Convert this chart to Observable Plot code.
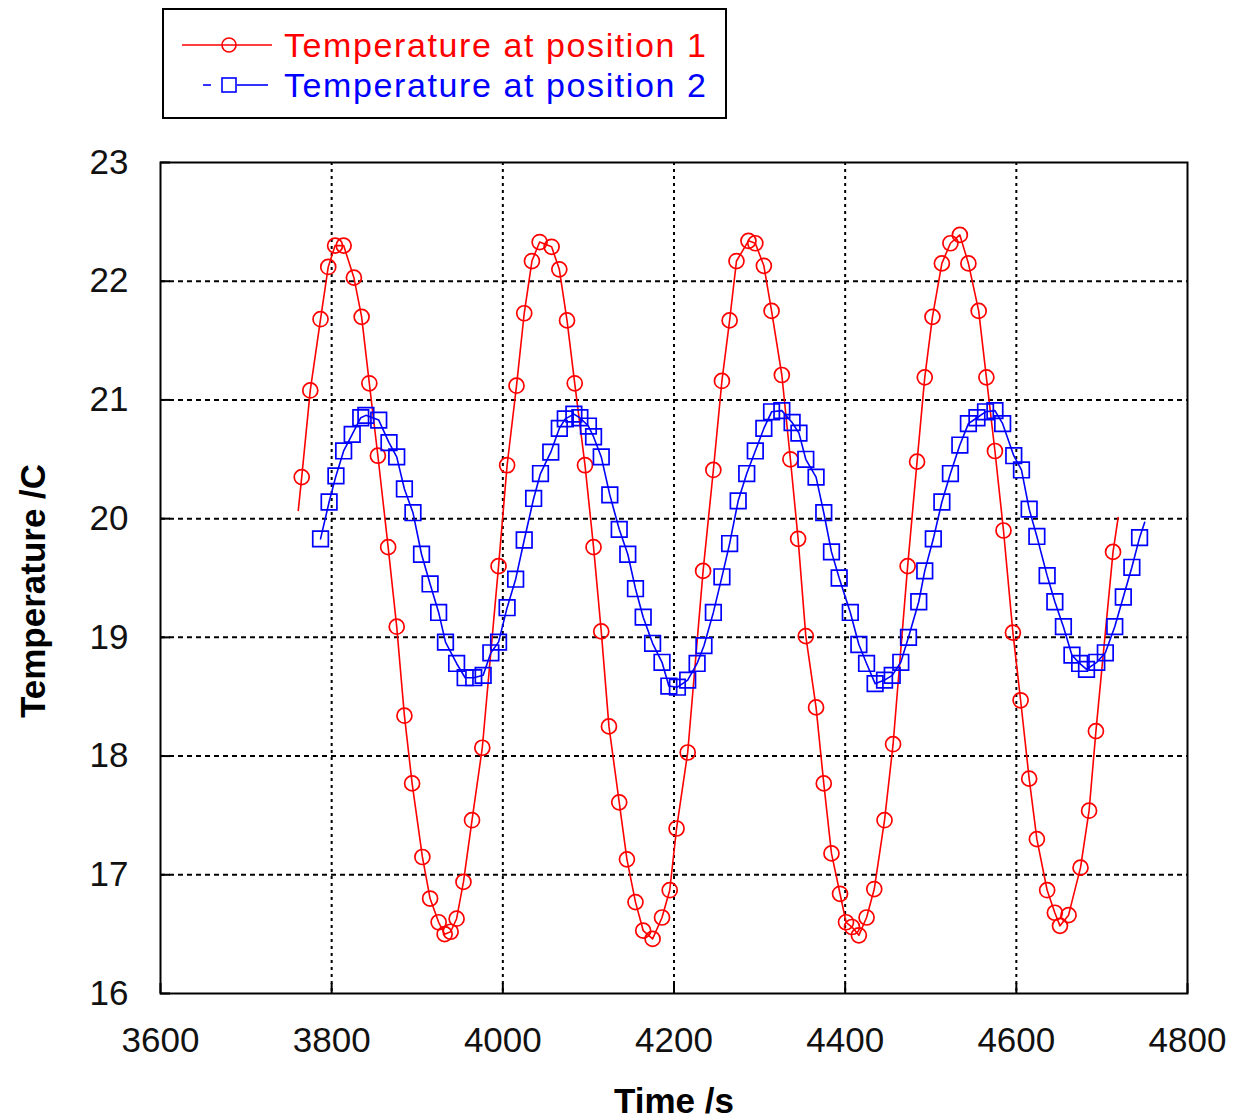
<!DOCTYPE html>
<html>
<head>
<meta charset="utf-8">
<script src="https://cdn.jsdelivr.net/npm/d3@7"></script>
<script src="https://cdn.jsdelivr.net/npm/@observablehq/plot@0.6"></script>
<style>
  html, body { margin: 0; padding: 0; background: #fff; }
  #chart { width: 1235px; }
  svg { display: block; }
</style>
</head>
<body>
<div id="chart"></div>
<script>
// Series 1: temperature at position 1 (circles)
const time1 = [3765,3775,3787,3796,3804,3814,3826,3835,3844,3854,3866,3876,3885,3894,3906,3915,3925,3932,3939,3946,3954,3964,3976,3995,
  4005,4016,4025,4034,4043,4057,4066,4075,4084,4096,4106,4115,4124,4136,4145,4155,4164,4175,4186,4195,4203,4216,4234,
  4246,4256,4265,4273,4287,4295,4305,4314,4326,4336,4345,4354,4366,4375,4384,4394,4401,4408,4416,4425,4434,4446,4456,4473,
  4484,4493,4502,4513,4523,4534,4544,4556,4565,4575,4585,4596,4605,4615,4624,4636,4645,4651,4661,4675,4685,4693,4713];
const temp1 = [20.35,21.08,21.68,22.12,22.30,22.30,22.03,21.70,21.14,20.53,19.76,19.09,18.34,17.77,17.15,16.80,16.60,16.50,16.52,16.63,16.94,17.46,18.07,19.60,
  20.45,21.12,21.73,22.17,22.33,22.29,22.10,21.67,21.14,20.45,19.76,19.05,18.25,17.61,17.13,16.77,16.53,16.46,16.64,16.87,17.39,18.03,19.56,
  20.41,21.16,21.67,22.17,22.34,22.32,22.13,21.75,21.21,20.50,19.83,19.01,18.41,17.77,17.18,16.84,16.60,16.56,16.49,16.64,16.88,17.46,18.10,19.60,
  20.48,21.19,21.70,22.15,22.32,22.39,22.15,21.75,21.19,20.57,19.90,19.04,18.47,17.81,17.30,16.87,16.68,16.57,16.66,17.06,17.54,18.21,19.72];
// Ends of the position-1 curve, drawn without a marker
const time1LineEnds = [3761, 4719];
const temp1LineEnds = [20.07, 20.01];

// Series 2: temperature at position 2 (squares)
const time2 = [3787,3797,3805,3814,3824,3834,3840,3855,3867,3876,3885,3895,3905,3915,3925,3933,3946,3956,3966,3977,3986,3995,
  4005,4015,4025,4036,4044,4056,4066,4073,4083,4090,4100,4106,4115,4125,4136,4146,4155,4164,4175,4186,4194,4204,4216,4227,4235,
  4246,4256,4265,4275,4285,4295,4305,4314,4326,4338,4346,4354,4366,4375,4384,4393,4406,4416,4425,4435,4446,4455,4465,4474,
  4486,4493,4503,4513,4523,4534,4544,4554,4564,4575,4584,4597,4606,4615,4624,4636,4645,4655,4665,4674,4682,4694,4704,4715,4725,4735,4744];
const temp2 = [19.83,20.14,20.36,20.57,20.71,20.85,20.87,20.83,20.64,20.52,20.25,20.05,19.70,19.45,19.21,18.96,18.78,18.66,18.66,18.68,18.87,18.96,
  19.25,19.49,19.82,20.17,20.38,20.56,20.76,20.84,20.88,20.85,20.78,20.69,20.52,20.20,19.91,19.70,19.41,19.17,18.95,18.79,18.59,18.58,18.64,18.78,18.93,
  19.21,19.51,19.79,20.15,20.38,20.57,20.76,20.90,20.91,20.81,20.72,20.50,20.35,20.05,19.72,19.50,19.21,18.94,18.78,18.61,18.64,18.68,18.79,19.00,
  19.30,19.56,19.83,20.14,20.38,20.62,20.80,20.85,20.90,20.91,20.80,20.53,20.41,20.08,19.85,19.52,19.30,19.09,18.85,18.78,18.73,18.79,18.87,19.09,19.34,19.59,19.84];
const time2LineEnd = [4750];
const temp2LineEnd = [19.97];

const xTicks = [3600, 3800, 4000, 4200, 4400, 4600, 4800];
const yTicks = [16, 17, 18, 19, 20, 21, 22, 23];
const xGrid = [3800, 4000, 4200, 4400, 4600];
const yGrid = [17, 18, 19, 20, 21, 22];
const seriesNames = ["Temperature at position 1", "Temperature at position 2"];
const xLabel = "Time /s";
const yLabel = "Temperature /C";

const RED = "#ff0000", BLUE = "#0000ff";
const FONT = "'Liberation Sans', Arial, sans-serif";

const pts1 = time1.map((t, i) => ({t, v: temp1[i]}));
const pts2 = time2.map((t, i) => ({t, v: temp2[i]}));
const line1 = [...pts1, ...time1LineEnds.map((t, i) => ({t, v: temp1LineEnds[i]}))].sort((a, b) => a.t - b.t);
const line2 = [...pts2, ...time2LineEnd.map((t, i) => ({t, v: temp2LineEnd[i]}))].sort((a, b) => a.t - b.t);

// Legend (above the SVG)
const legend = d3.create("svg").attr("width", 1235).attr("height", 140)
  .style("font-family", FONT);
legend.append("rect").attr("x", 163).attr("y", 9).attr("width", 563).attr("height", 109)
  .attr("fill", "none").attr("stroke", "#000").attr("stroke-width", 2);
// row 1
legend.append("line").attr("x1", 182).attr("x2", 272).attr("y1", 45).attr("y2", 45)
  .attr("stroke", RED).attr("stroke-width", 1.6);
legend.append("circle").attr("cx", 229).attr("cy", 45).attr("r", 7)
  .attr("fill", "none").attr("stroke", RED).attr("stroke-width", 1.6);
legend.append("text").attr("x", 284).attr("y", 57).attr("fill", RED)
  .attr("font-size", 34).attr("textLength", 422).attr("lengthAdjust", "spacing").text(seriesNames[0]);
// row 2
legend.append("line").attr("x1", 203).attr("x2", 211).attr("y1", 85).attr("y2", 85)
  .attr("stroke", BLUE).attr("stroke-width", 1.6);
legend.append("line").attr("x1", 237).attr("x2", 268).attr("y1", 85).attr("y2", 85)
  .attr("stroke", BLUE).attr("stroke-width", 1.6);
legend.append("rect").attr("x", 222).attr("y", 78).attr("width", 14).attr("height", 14)
  .attr("fill", "none").attr("stroke", BLUE).attr("stroke-width", 1.6);
legend.append("text").attr("x", 284).attr("y", 97).attr("fill", BLUE)
  .attr("font-size", 34).attr("textLength", 422).attr("lengthAdjust", "spacing").text(seriesNames[1]);

const plot = Plot.plot({
  width: 1235,
  height: 979,
  marginTop: 22,
  marginBottom: 126,
  marginLeft: 160,
  marginRight: 48,
  style: {fontFamily: FONT, fontSize: "35px", color: "#000", background: "#fff"},
  x: {domain: [3600, 4800]},
  y: {domain: [16, 23]},
  marks: [
    Plot.ruleX(xGrid, {stroke: "#000", strokeWidth: 2, strokeDasharray: "3,4"}),
    Plot.ruleY(yGrid, {stroke: "#000", strokeWidth: 2, strokeDasharray: "5,4"}),
    Plot.frame({stroke: "#000", strokeWidth: 2}),
    // inward tick marks (no text)
    Plot.axisX({ticks: xTicks, tickSize: -10, tickFormat: () => "", label: null, strokeWidth: 2}),
    Plot.axisY({ticks: yTicks, tickSize: -10, tickFormat: () => "", label: null, strokeWidth: 2}),
    // tick labels
    Plot.axisX({ticks: xTicks, tickSize: 0, tickPadding: 34, tickFormat: d => String(d), label: null, fontSize: 35, fill: "#111"}),
    Plot.axisY({ticks: yTicks, tickSize: 0, tickPadding: 32, tickFormat: d => String(d), label: null, fontSize: 35, fill: "#111"}),
    // axis titles
    Plot.text([xLabel], {frameAnchor: "bottom", dy: 119, fontWeight: "bold", fontSize: 35, fill: "#000"}),
    Plot.text([yLabel], {frameAnchor: "left", textAnchor: "middle", dx: -127, dy: 13, rotate: -90, fontWeight: "bold", fontSize: 35, fill: "#000"}),
    // data
    Plot.line(line1, {x: "t", y: "v", stroke: RED, strokeWidth: 1.6}),
    Plot.dot(pts1, {x: "t", y: "v", r: 7.5, stroke: RED, strokeWidth: 1.7, fill: "none"}),
    Plot.line(line2, {x: "t", y: "v", stroke: BLUE, strokeWidth: 1.6}),
    Plot.dot(pts2, {x: "t", y: "v", symbol: "square", r: 8.8, stroke: BLUE, strokeWidth: 1.7, fill: "none"})
  ]
});

const chart = document.getElementById("chart");
chart.appendChild(legend.node());
chart.appendChild(plot);
</script>
</body>
</html>
